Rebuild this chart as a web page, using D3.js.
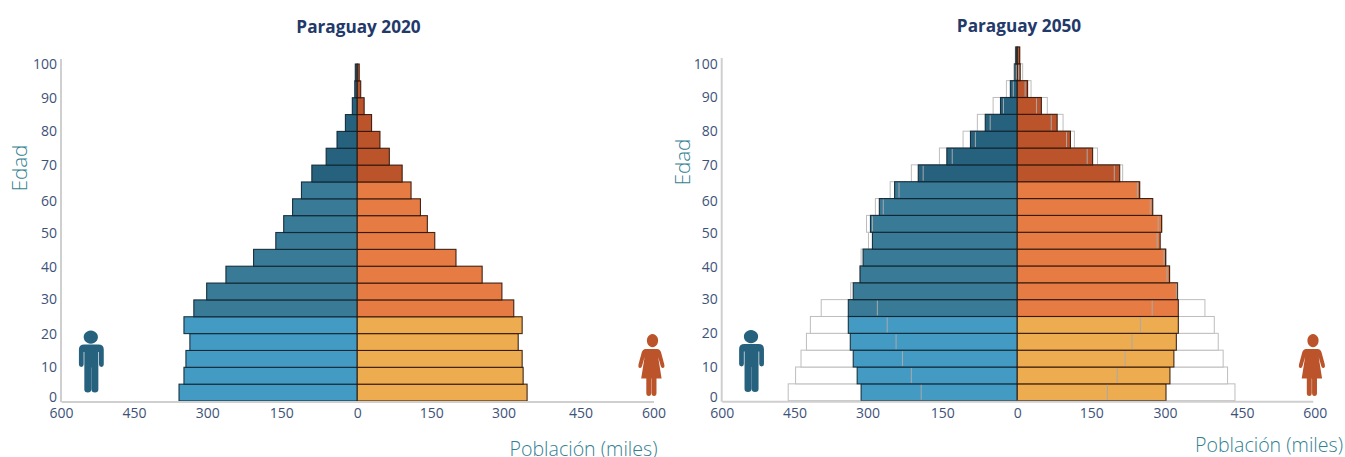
<!DOCTYPE html>
<html><head><meta charset="utf-8">
<script src="https://cdn.jsdelivr.net/npm/d3@7/dist/d3.min.js"></script>
<style>
html,body{margin:0;padding:0;background:#fff;overflow:hidden}
text{font-family:"Open Sans",sans-serif}
</style></head><body><svg id="c" width="1345" height="457"></svg>
<script>
// age group lower bounds, youngest first
const ages2020 = [0,5,10,15,20,25,30,35,40,45,50,55,60,65,70,75,80,85,90,95];
const ages2050 = [0,5,10,15,20,25,30,35,40,45,50,55,60,65,70,75,80,85,90,95,100];
const male2020   = [361,351,347,339,351,331,305,266,210,165,149,131,113,92,63,41,24,10,5,4];
const female2020 = [344,336,334,326,334,317,293,253,200,157,142,128,109,91,65,46,29,14,7,4];
const male2050   = [317,325,333,339,343,343,333,319,313,294,298,280,249,201,143,95,65,34,14,5,3];
const female2050 = [302,310,318,323,327,327,325,309,301,290,293,275,248,208,153,108,81,49,21,6,5];
const maleHigh2050   = [465,450,439,428,420,398,338,320,317,302,306,288,258,215,158,110,81,49,22,7,4];
const femaleHigh2050 = [442,427,418,408,400,381,326,310,303,291,294,275,250,214,163,116,93,61,28,11,5];
const maleLow2050    = [195,215,233,246,264,284,null,null,null,null,294,272,240,191,132,85,55,28,8,2,null];
const femaleLow2050  = [183,203,219,233,250,274,323,304,298,284,286,270,244,197,142,100,69,39,16,3,null];
const xTicks = [-600,-450,-300,-150,0,150,300,450,600];
const yTicks = [0,10,20,30,40,50,60,70,80,90,100];
const titleA = "Paraguay 2020", titleB = "Paraguay 2050";
const xLabel = "Población (miles)", yLabel = "Edad";
const maleColors = ["#439bc4","#397a96","#26617d"];
const femaleColors = ["#eeac50","#e67c43","#bb542b"];

const band = a => a < 25 ? 0 : a < 65 ? 1 : 2;
const svg = d3.select("#c");

const manPath = "M0,-30.5a6.6,6.6 0 1,1 -0.01,0Z M-7,-16.5h14q5,0 5,5v15q0,2.4 -2.2,2.4t-2.2,-2.4v-12.5h-0.6v37.5q0,3 -3.2,3t-3.2,-3v-22h-0.2v22q0,3 -3.2,3t-3.2,-3v-37.5h-0.6v12.5q0,2.4 -2.2,2.4t-2.2,-2.4v-15q0,-5 5,-5Z";
const womanPath = "M0,-31a6.6,6.6 0 1,1 -0.01,0Z M-5.5,-16h11q3.4,0 4.6,3.5l3.8,12q0.8,2.8 -1.3,3.4t-2.9,-2l-3,-9l4,21.5h-6v14.5q0,3 -2.9,3t-2.9,-3v-14.5h-0.4v14.5q0,3 -2.9,3t-2.9,-3v-14.5h-6l4,-21.5l-3,9q-0.8,2.6 -2.9,2t-1.3,-3.4l3.8,-12q1.2,-3.5 4.6,-3.5Z";
// small offsets of the y tick labels seen in the reference
const yNudge = {0:1,30:-1,40:1,50:1,60:2.5};

function pyramid(o){
  const x = d3.scaleLinear().domain([-600,600]).range([o.left,o.right]);
  const y = d3.scaleLinear().domain([0,100]).range([o.bottom,o.top100]);
  const g = svg.append("g");
  const rows = o.ages.map((a,i)=>({a,i}));

  if(o.hiM){
    [[o.hiM,-1],[o.hiF,1]].forEach(([vals,s])=>{
      g.append("g").selectAll("rect").data(rows).join("rect")
        .attr("x",d=>s<0?x(-vals[d.i]):x(0))
        .attr("width",d=>Math.abs(x(vals[d.i])-x(0)))
        .attr("y",d=>y(d.a+5)).attr("height",d=>y(d.a)-y(d.a+5))
        .attr("fill","#fff").attr("stroke","#bdbdbd").attr("stroke-width",1);
    });
  }
  [[o.male,-1,maleColors,"#0d2230"],[o.female,1,femaleColors,"#2e1408"]].forEach(([vals,s,cols,st])=>{
    g.append("g").selectAll("rect").data(rows).join("rect")
      .attr("x",d=>s<0?x(-vals[d.i]):x(0))
      .attr("width",d=>Math.abs(x(vals[d.i])-x(0)))
      .attr("y",d=>y(d.a+5)).attr("height",d=>y(d.a)-y(d.a+5))
      .attr("fill",d=>cols[band(d.a)])
      .attr("stroke",st).attr("stroke-width",1.1).attr("stroke-opacity",.9);
  });
  if(o.loM){
    [[o.loM,-1],[o.loF,1]].forEach(([vals,s])=>{
      g.append("g").selectAll("line").data(rows.filter(d=>vals[d.i]!==null)).join("line")
        .attr("x1",d=>x(s*vals[d.i])).attr("x2",d=>x(s*vals[d.i]))
        .attr("y1",d=>y(d.a+5)+1).attr("y2",d=>y(d.a)-1)
        .attr("stroke","#a9a9a9").attr("stroke-width",1);
    });
  }

  const ax = g.append("g").attr("transform",`translate(0,${o.bottom+0.5})`)
    .call(d3.axisBottom(x).tickValues(xTicks).tickSize(0).tickPadding(7).tickFormat(d=>Math.abs(d)));
  ax.select(".domain").attr("stroke","#cfcfcf").attr("stroke-width",2);
  ax.selectAll("text").attr("font-size",14).attr("fill","#3d5279").attr("font-family","'Open Sans',sans-serif")
    .attr("dx",d=>o.xNudge[d]||0);

  const ay = g.append("g").attr("transform",`translate(${o.left},0)`)
    .call(d3.axisLeft(y).tickValues(yTicks).tickSize(0).tickPadding(4));
  ay.select(".domain").attr("d",`M0,${o.axisTop}V${o.bottom+1}`).attr("stroke","#cfcfcf").attr("stroke-width",2).attr("fill","none");
  ay.selectAll("text").attr("font-size",14).attr("fill","#3d5279").attr("font-family","'Open Sans',sans-serif")
    .attr("dy",d=>d===0?"-0.02em":"0.32em")
    .attr("transform",d=>`translate(0,${yNudge[d]||0})`);

  g.append("text").attr("x",o.titleX).attr("y",o.titleY).attr("text-anchor","middle")
    .attr("font-size",17.2).attr("font-weight",700).attr("fill","#22396a").text(o.title);
  g.append("text").attr("x",o.xlabX).attr("y",o.xlabY).attr("text-anchor","end")
    .attr("font-size",19.6).attr("font-weight",300).attr("fill","#337f92").text(xLabel);
  g.append("text").attr("transform",`translate(${o.ylabX},${o.ylabY}) rotate(-90)`).attr("text-anchor","middle")
    .attr("font-size",20.5).attr("font-weight",300).attr("fill","#337f92").text(yLabel);

  g.append("path").attr("d",manPath).attr("fill","#26617d").attr("transform",`translate(${o.manX},${o.manY}) scale(1.08,1)`);
  g.append("path").attr("d",womanPath).attr("fill","#bb542b").attr("transform",`translate(${o.womanX},${o.womanY}) scale(0.85,1)`);
}

pyramid({ages:ages2020,male:male2020,female:female2020,left:61,right:653.5,bottom:401,top100:64,axisTop:59,
  xNudge:{"-450":-1,"-300":-2,"-150":-2,"300":-2,"450":1},
  title:titleA,titleX:358.5,titleY:33,xlabX:657.5,xlabY:455.5,ylabX:27,ylabY:168,manX:90.8,manY:361,womanX:652.5,womanY:365});
pyramid({ages:ages2050,male:male2050,female:female2050,hiM:maleHigh2050,hiF:femaleHigh2050,loM:maleLow2050,loF:femaleLow2050,
  left:721.7,right:1312.8,bottom:400.7,top100:63.8,axisTop:58,
  xNudge:{"-450":-1,"-300":-2,"-150":-1,"450":3,"600":2},
  title:titleB,titleX:1019,titleY:32,xlabX:1343,xlabY:451.5,ylabX:690,ylabY:162,manX:751,manY:360.5,womanX:1313,womanY:365});
</script></body></html>
